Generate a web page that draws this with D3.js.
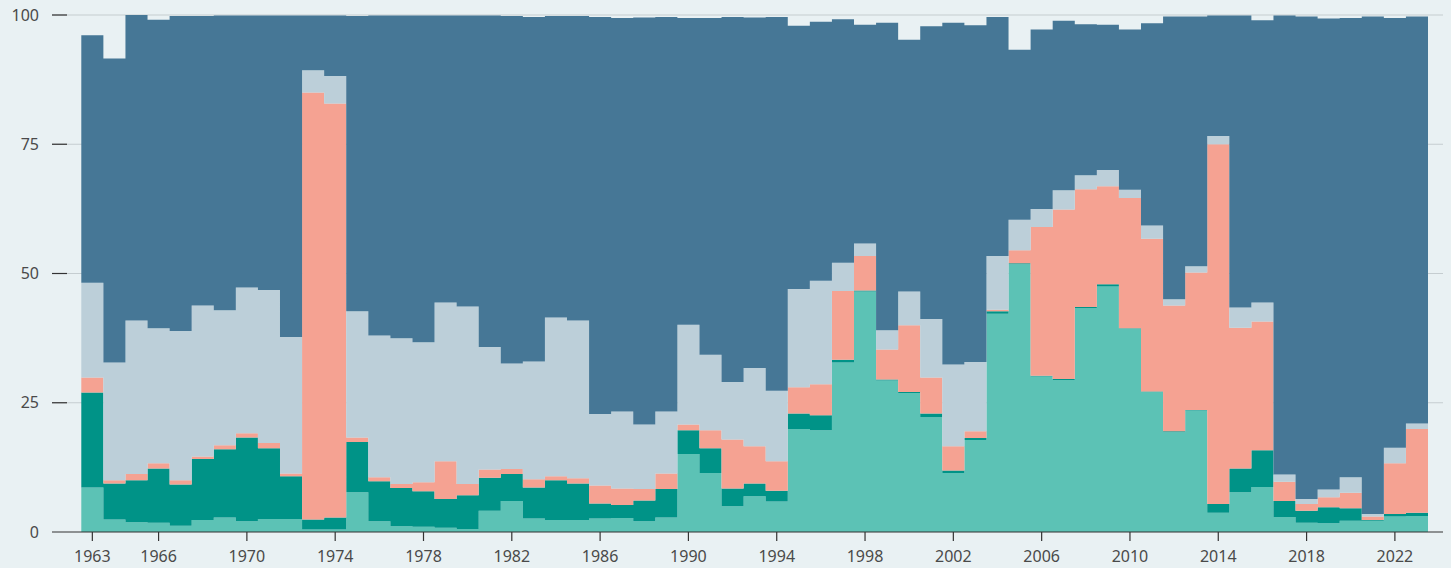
<!DOCTYPE html>
<html>
<head>
<meta charset="utf-8">
<script src="https://cdn.jsdelivr.net/npm/d3@7"></script>
<style>
  html, body { margin: 0; padding: 0; background: #e9f1f3; }
  svg { display: block; }
  text { font-family: "Noto Sans", "Open Sans", sans-serif; }
</style>
</head>
<body>
<svg id="chart" width="1451" height="568"></svg>
<script>
const years = d3.range(1963, 2024);
const tickYears = [1963, 1966, 1970, 1974, 1978, 1982, 1986, 1990, 1994, 1998, 2002, 2006, 2010, 2014, 2018, 2022];
const yTicks = [0, 25, 50, 75, 100];

const seriesNames = ["s1", "s2", "s3", "s4", "s5"];
const seriesColors = ["#5cc2b5", "#009387", "#f5a292", "#bccfd9", "#467796"];

const s1 = [8.6,2.4,1.9,1.8,1.2,2.3,2.8,2.1,2.5,2.5,0.5,0.5,7.7,2.1,1.1,1.0,0.8,0.6,4.1,6.0,2.6,2.3,2.3,2.6,2.7,2.1,2.8,15.1,11.4,5.0,6.9,5.9,19.9,19.7,32.8,46.5,29.3,26.9,22.2,11.4,17.8,42.2,51.8,30.1,29.4,43.3,47.5,39.3,27.1,19.3,23.5,3.7,7.7,8.7,2.9,1.8,1.7,2.2,2.2,3.0,3.1];
const s2 = [18.4,7.0,8.1,10.5,8.0,11.8,13.2,16.2,13.7,8.3,1.9,2.3,9.7,7.7,7.4,6.9,5.6,6.5,6.4,5.2,6.0,7.7,7.1,2.9,2.5,4.0,5.5,4.6,4.8,3.4,2.5,2.1,3.0,2.9,0.5,0.2,0.2,0.2,0.7,0.5,0.4,0.5,0.2,0.1,0.2,0.2,0.4,0.1,0.1,0.2,0.1,1.7,4.6,7.1,3.1,2.3,3.1,2.4,0.1,0.5,0.6];
const s3 = [2.9,0.6,1.2,1.0,0.8,0.5,0.8,0.8,1.0,0.5,82.6,80.1,0.9,0.8,0.8,1.7,7.3,2.2,1.6,1.0,1.6,0.8,1.0,3.5,3.2,2.2,3.0,1.1,3.5,9.5,7.2,5.7,5.1,6.0,13.3,6.7,5.8,12.9,7.0,4.7,1.3,0.3,2.5,28.8,32.8,22.8,19.0,25.2,29.5,24.3,26.6,69.6,27.2,24.9,3.7,1.3,1.9,3.0,0.7,9.8,16.2];
const s4 = [18.3,22.8,29.7,26.1,28.9,29.2,26.1,28.2,29.6,26.4,4.3,5.3,24.4,27.4,28.2,27.1,30.7,34.3,23.7,20.4,22.8,30.7,30.5,13.8,14.9,12.5,12.0,19.3,14.6,11.1,15.1,13.6,19.0,20.0,5.5,2.4,3.7,6.5,11.3,15.8,13.4,10.4,5.9,3.5,3.7,2.7,3.1,1.6,2.6,1.2,1.2,1.6,3.9,3.7,1.4,1.0,1.5,3.0,0.5,3.0,1.1];
const s5 = [47.9,58.8,59.1,59.7,60.9,56.0,57.0,52.6,53.1,62.2,10.6,11.7,57.1,61.9,62.4,63.2,55.5,56.3,64.1,67.2,66.6,58.3,58.9,76.8,76.1,78.7,76.3,59.3,65.1,70.6,67.8,72.3,50.9,50.1,47.1,42.3,59.5,48.7,56.6,66.1,65.1,46.2,32.9,34.7,32.8,29.2,28.1,31.0,39.1,54.7,48.3,23.3,56.5,54.6,88.8,93.3,91.1,88.8,96.2,83.1,78.7];

const seriesValues = [s1, s2, s3, s4, s5];
const table = years.map((y, i) => {
  const row = { year: y };
  seriesNames.forEach((n, k) => row[n] = seriesValues[k][i]);
  return row;
});

const svg = d3.select("#chart");
const x = d3.scaleBand().domain(years).range([81.3, 1428]).paddingInner(0).paddingOuter(0);
const y = d3.scaleLinear().domain([0, 100]).range([532, 15]);
const xEnd = x.range()[1];

// gridlines
svg.append("g").selectAll("line").data(yTicks.filter(d => d > 0)).join("line")
  .attr("x1", 52).attr("x2", 1443)
  .attr("y1", d => y(d)).attr("y2", d => y(d))
  .attr("stroke", "#c5cdd0").attr("stroke-width", 1.2);

// stacked step areas (one continuous shape per layer, no seams)
const stack = d3.stack().keys(seriesNames);
const layers = stack(table);
const area = d3.area()
  .curve(d3.curveStepAfter)
  .x(d => d.xpos)
  .y0(d => y(d.v0))
  .y1(d => y(d.v1));
svg.append("g").selectAll("path").data(layers).join("path")
  .attr("fill", (d, i) => seriesColors[i])
  .attr("d", layer => {
    const pts = layer.map(d => ({ xpos: x(d.data.year), v0: d[0], v1: d[1] }));
    const last = layer[layer.length - 1];
    pts.push({ xpos: xEnd, v0: last[0], v1: last[1] });
    return area(pts);
  });

// y ticks
const yg = svg.append("g");
yg.selectAll("line").data(yTicks.filter(d => d > 0)).join("line")
  .attr("x1", 52).attr("x2", 67)
  .attr("y1", d => y(d)).attr("y2", d => y(d))
  .attr("stroke", "#333").attr("stroke-width", 1.2);
yg.selectAll("text").data(yTicks).join("text")
  .attr("x", 39).attr("y", d => y(d)).attr("dy", "0.35em")
  .attr("text-anchor", "end").attr("font-size", 16).attr("fill", "#4a4a4a")
  .text(d => d);

// x axis
const xg = svg.append("g");
xg.append("line").attr("x1", 52).attr("x2", 1443).attr("y1", y(0)).attr("y2", y(0))
  .attr("stroke", "#333").attr("stroke-width", 1.2);
xg.selectAll("line.t").data(tickYears).join("line").attr("class", "t")
  .attr("x1", d => x(d) + x.bandwidth() / 2).attr("x2", d => x(d) + x.bandwidth() / 2)
  .attr("y1", y(0)).attr("y2", y(0) + 9)
  .attr("stroke", "#333").attr("stroke-width", 1.2);
xg.selectAll("text").data(tickYears).join("text")
  .attr("x", d => x(d) + x.bandwidth() / 2).attr("y", 556).attr("dy", "0.35em")
  .attr("text-anchor", "middle").attr("font-size", 16).attr("fill", "#4a4a4a")
  .text(d => d);
</script>
</body>
</html>
